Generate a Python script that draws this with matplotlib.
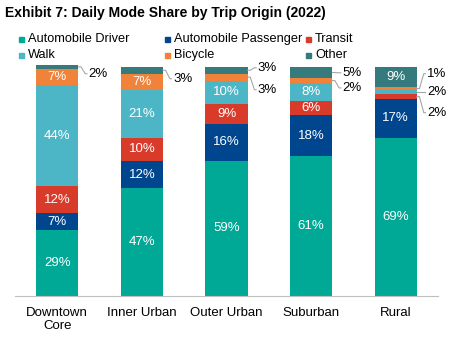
import numpy as np
import matplotlib.pyplot as plt
from matplotlib.patches import Rectangle

plt.rcParams['font.family'] = ['Liberation Sans', 'DejaVu Sans']

origins = ["Downtown\nCore", "Inner Urban", "Outer Urban", "Suburban", "Rural"]
modes = ["Automobile Driver", "Automobile Passenger", "Transit", "Walk", "Bicycle", "Other"]
driver = [29, 47, 59, 61, 69]
passenger = [7, 12, 16, 18, 17]
transit = [12, 10, 9, 6, 2]
walk = [44, 21, 10, 8, 2]
bicycle = [7, 7, 3, 2, 1]
other = [2, 3, 3, 5, 9]
colors = ["#00a896", "#00468e", "#d93b2b", "#4db6c6", "#f0823a", "#357a7c"]

# segments labelled outside the bar: (bar, mode) -> label height
outside = {(0, 5): 97, (1, 5): 94.8,
           (2, 5): 99.6, (2, 4): 90,
           (3, 5): 97.4, (3, 4): 90.8,
           (4, 4): 97, (4, 3): 89, (4, 2): 80}

series = [driver, passenger, transit, walk, bicycle, other]

fig = plt.figure(figsize=(4.54, 3.41), dpi=100)
ax = fig.add_axes([0.033, 0.132, 0.932, 0.672])

x = np.arange(len(origins))
w = 0.5
bottom = np.zeros(len(origins))
for m, vals in enumerate(series):
    vals = np.array(vals, dtype=float)
    ax.bar(x, vals, w, bottom=bottom, color=colors[m], clip_on=False)
    for i in range(len(origins)):
        mid = bottom[i] + vals[i] / 2
        txt = f"{int(vals[i])}%"
        if (i, m) in outside:
            ly = outside[(i, m)]
            xr = x[i] + w / 2
            ax.plot([xr, xr + 0.03, xr + 0.08, xr + 0.1], [mid, mid, ly, ly],
                    color="#a6a6a6", lw=0.8, clip_on=False)
            ax.text(xr + 0.12, ly, txt, ha="left", va="center",
                    fontsize=9.5, color="black")
        else:
            ax.text(x[i], mid, txt, ha="center", va="center",
                    fontsize=9.5, color="white")
    bottom += vals

ax.set_xlim(-0.5, 4.5)
ax.set_ylim(0, 100)
ax.set_xticks(x)
ax.set_xticklabels(origins, fontsize=9.5, linespacing=1.05)
ax.tick_params(axis="x", length=0, pad=8)
ax.set_yticks([])
for s in ["top", "right", "left"]:
    ax.spines[s].set_visible(False)
ax.spines["bottom"].set_color("#bfbfbf")

fig.text(0.011, 0.962, "Exhibit 7: Daily Mode Share by Trip Origin (2022)",
         fontsize=10, fontweight="bold", va="center", ha="left")

# legend laid out in two rows of three, left to right
W, H = 454, 341
leg_x = [19, 165, 306]
leg_y = [39, 55]
for k, name in enumerate(modes):
    px = leg_x[k % 3]
    py = leg_y[k // 3]
    fig.patches.append(Rectangle((px / W, (H - py - 2.5) / H), 5 / W, 5 / H,
                                 transform=fig.transFigure, color=colors[k]))
    fig.text((px + 9) / W, 1 - py / H, name, fontsize=9.2,
             ha="left", va="center")

fig.savefig("out.png", dpi=100)
